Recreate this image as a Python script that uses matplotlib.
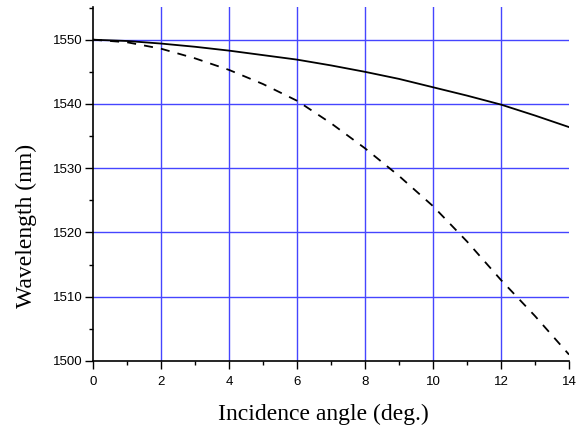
import matplotlib
matplotlib.use("Agg")
import matplotlib.pyplot as plt
from matplotlib.ticker import MultipleLocator

angle = [0, 1, 2, 3, 4, 5, 6, 7, 8, 9, 10, 11, 12, 13, 14]
wl_solid = [1550.0, 1549.8, 1549.4, 1548.9, 1548.3, 1547.6, 1546.9, 1546.0,
            1545.0, 1543.9, 1542.6, 1541.3, 1539.9, 1538.2, 1536.4]
wl_dashed = [1550.0, 1549.6, 1548.6, 1547.1, 1545.3, 1543.1, 1540.5, 1537.0,
             1533.1, 1528.8, 1524.1, 1518.6, 1512.6, 1507.0, 1501.0]
xticks = [0, 2, 4, 6, 8, 10, 12, 14]
yticks = [1500, 1510, 1520, 1530, 1540, 1550]

fig = plt.figure(figsize=(5.83, 4.33), dpi=100)
ax = fig.add_axes([0.1595, 0.1663, 0.8165, 0.8177])

grid_c = '#4545ff'
for xv in xticks[1:-1]:
    ax.axvline(xv, color=grid_c, lw=1.0, zorder=1)
for yv in yticks[1:]:
    ax.axhline(yv, color=grid_c, lw=1.0, zorder=1)

ax.plot(angle, wl_solid, color='black', lw=1.3, zorder=3)
ax.plot(angle, wl_dashed, color='black', lw=1.3, dashes=(5, 4.5), zorder=3)

ax.set_xlim(0, 14)
ax.set_ylim(1500, 1555.1)
ax.set_xticks(xticks)
ax.set_yticks(yticks)
ax.xaxis.set_minor_locator(MultipleLocator(1))
ax.yaxis.set_minor_locator(MultipleLocator(5))

for s in ['top', 'right']:
    ax.spines[s].set_visible(False)
for s in ['left', 'bottom']:
    ax.spines[s].set_linewidth(1.2)

ax.tick_params(which='major', direction='out', length=5.5, width=1.0,
               labelsize=9.5, labelfontfamily='Liberation Sans')
ax.tick_params(which='minor', direction='out', length=3, width=1.0)
ax.tick_params(axis='x', which='major', pad=5)
ax.tick_params(axis='y', which='major', pad=2)

ax.set_xlabel('Incidence angle (deg.)', fontsize=17, family='Liberation Serif')
ax.set_ylabel('Wavelength (nm)', fontsize=17, family='Liberation Serif')
ax.xaxis.set_label_coords(0.485, -0.121)
ax.yaxis.set_label_coords(-0.118, 0.381)

fig.savefig('out.png', dpi=100)
